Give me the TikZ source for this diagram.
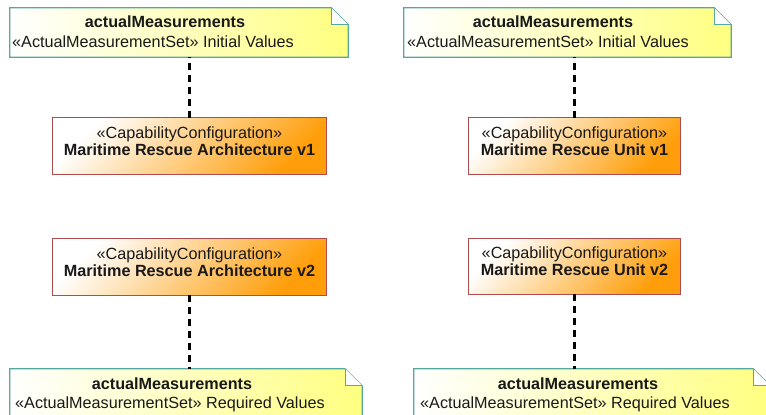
\documentclass[tikz,border=0pt]{standalone}
\usepackage{fontspec}
\setmainfont{Liberation Sans}
\definecolor{noteyellow}{RGB}{255,255,128}
\definecolor{noteteal}{RGB}{85,168,160}
\definecolor{boxorange}{RGB}{255,158,10}
\definecolor{boxred}{RGB}{172,78,78}
\definecolor{txt}{RGB}{25,25,25}
\begin{document}
\begin{tikzpicture}[x=1pt,y=-1pt,
  shapebox/.style={draw=none,inner sep=0pt},
  lbl/.style={inner sep=0pt,text=txt,font=\fontsize{16.2}{18}\selectfont,text height=11.5pt,text depth=3pt},
  lblb/.style={lbl,font=\fontsize{16.2}{18}\selectfont\bfseries},
  noteline/.style={draw=noteteal,line width=1.2pt},
  boxline/.style={draw=boxred,line width=1.2pt},
  depline/.style={line width=3.6pt,dash pattern=on 7pt off 5pt,black}
]
\useasboundingbox (0,0) rectangle (766,415);
\clip (0,0) rectangle (766,415);

% ---------- notes ----------
\node[shapebox,minimum width=338pt,minimum height=49pt] (n1) at (179,32.5) {};
\node[shapebox,minimum width=327pt,minimum height=49pt] (n2) at (567.5,32.5) {};
\node[shapebox,minimum width=352pt,minimum height=60pt] (n3) at (186,399) {};
\node[shapebox,minimum width=356pt,minimum height=60pt] (n4) at (592,399) {};

\foreach \n in {n1,n2,n3,n4}{
  \shade[left color=white,right color=noteyellow,noteline,line join=miter]
    (\n.north west) -- ([xshift=-17pt]\n.north east) -- ([yshift=-17pt]\n.north east)
    -- (\n.south east) -- (\n.south west) -- cycle;
  \draw[noteline,fill=white]
    ([xshift=-17pt]\n.north east) -- ([xshift=-17pt,yshift=-17pt]\n.north east)
    -- ([yshift=-17pt]\n.north east);
}

% ---------- capability boxes ----------
\node[shapebox,minimum width=273pt,minimum height=56pt] (a1) at (189.5,146) {};
\node[shapebox,minimum width=211pt,minimum height=56pt] (u1) at (574.5,146) {};
\node[shapebox,minimum width=273pt,minimum height=56pt] (a2) at (189.5,267) {};
\node[shapebox,minimum width=211pt,minimum height=55pt] (u2) at (574.5,266.5) {};

\foreach \b in {a1,u1,a2,u2}{
  \shade[top color=white,bottom color=boxorange,shading angle=45,boxline]
    (\b.north west) rectangle (\b.south east);
}

% ---------- texts ----------
\node[lblb] (n1a) at (165,23) {actualMeasurements};
\node[lbl,anchor=west] (n1b) at (12,43) {«ActualMeasurementSet» Initial Values};
\node[lblb] (n2a) at (553,23) {actualMeasurements};
\node[lbl,anchor=west] (n2b) at (407,43) {«ActualMeasurementSet» Initial Values};
\node[lblb] (n3a) at (172,385) {actualMeasurements};
\node[lbl,anchor=west] (n3b) at (15,404) {«ActualMeasurementSet» Required Values};
\node[lblb] (n4a) at (578,385) {actualMeasurements};
\node[lbl,anchor=west] (n4b) at (420,404) {«ActualMeasurementSet» Required Values};

\node[lbl] (a1a) at (a1.center) [yshift=12pt] {«CapabilityConfiguration»};
\node[lblb] (a1b) at (a1.center) [yshift=-5pt] {Maritime Rescue Architecture v1};
\node[lbl] (u1a) at (u1.center) [yshift=12pt] {«CapabilityConfiguration»};
\node[lblb] (u1b) at (u1.center) [yshift=-5pt] {Maritime Rescue Unit v1};
\node[lbl] (a2a) at (a2.center) [yshift=12pt] {«CapabilityConfiguration»};
\node[lblb] (a2b) at (a2.center) [yshift=-5pt] {Maritime Rescue Architecture v2};
\node[lbl] (u2a) at (u2.center) [yshift=12pt] {«CapabilityConfiguration»};
\node[lblb] (u2b) at (u2.center) [yshift=-5pt] {Maritime Rescue Unit v2};

% ---------- dependencies ----------
\draw[depline] (a1.north) -- (a1.north |- n1.south);
\draw[depline] (u1.north) -- (u1.north |- n2.south);
\draw[depline] (a2.south) -- (a2.south |- n3.north);
\draw[depline] (u2.south) -- (u2.south |- n4.north);
\end{tikzpicture}
\end{document}
